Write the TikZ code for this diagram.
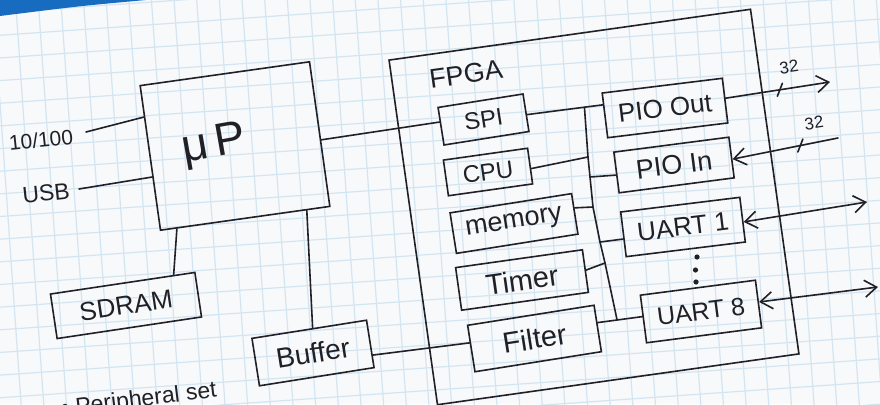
\documentclass[tikz,border=0pt]{standalone}
\usepackage{fontspec}
\setmainfont{Liberation Sans}
\usetikzlibrary{arrows.meta,calc}
\definecolor{ink}{RGB}{32,32,38}
\definecolor{gridc}{RGB}{212,229,242}
\definecolor{paper}{RGB}{247,249,251}
\definecolor{band}{RGB}{24,108,192}
\begin{document}
\begin{tikzpicture}[x=1pt,y=-1pt,
  blk/.style={draw=ink,line width=1.6pt,inner sep=0pt,text=ink,font=\fontsize{26}{28}\selectfont},
  wire/.style={draw=ink,line width=1.6pt,line cap=round},
  lbl/.style={text=ink,inner sep=0pt},
  gridline/.style={draw=gridc,line width=1.2pt},
  tipend/.style={-{Straight Barb[length=12pt,width=17pt]}},
  tipboth/.style={{Straight Barb[length=12pt,width=17pt]}-{Straight Barb[length=12pt,width=17pt]}}
]
\useasboundingbox (0,0) rectangle (880,404);
\fill[paper] (0,0) rectangle (880,404);
\begin{scope}
  \clip (0,0) rectangle (880,404);
  \begin{scope}[rotate around={4:(440,202)}]
    \foreach \i in {-12,...,52} \draw[gridline] (\i*22.6+8,-150) -- (\i*22.6+8,560);
    \foreach \j in {-12,...,30} \draw[gridline] (-150,\j*22.6+5) -- (1030,\j*22.6+5);
  \end{scope}
  \fill[band] (0,0) -- (146,0) .. controls (80,6) .. (0,16) -- cycle;
\end{scope}

% microprocessor and its neighbours
\node[blk,rotate=8,minimum width=171pt,minimum height=146pt] (mp) at (235,146) {};
\node[lbl,rotate=10,font=\fontsize{46}{48}\selectfont] (mplbl) at (214,146) {μ\,P};
\node[lbl,rotate=6,font=\fontsize{21}{23}\selectfont] (t100) at (41,140) {10/100};
\node[lbl,rotate=6,font=\fontsize{23}{25}\selectfont] (tusb) at (46,193) {USB};
\coordinate (c100) at (86,132);
\coordinate (cusb) at (79,189);
\node[blk,rotate=8.5,minimum width=146pt,minimum height=45pt] (sdram) at (126,305.5) {SDRAM};
\node[blk,rotate=9,minimum width=116pt,minimum height=48pt,font=\fontsize{28}{30}\selectfont] (buffer) at (313,353) {Buffer};
\node[lbl,rotate=7,anchor=base west,font=\fontsize{23}{25}\selectfont] (periph) at (62,416) {• Peripheral set};

% FPGA
\node[blk,rotate=8,minimum width=365pt,minimum height=348pt] (fpga) at (594,207) {};
\node[lbl,rotate=8,font=\fontsize{27}{29}\selectfont] (fpgalbl) at (466,74) {FPGA};
\node[blk,rotate=9,minimum width=86pt,minimum height=38pt,font=\fontsize{24}{26}\selectfont] (spi) at (483.5,119.5) {SPI};
\node[blk,rotate=8,minimum width=85pt,minimum height=36pt,font=\fontsize{24}{26}\selectfont] (cpu) at (488,172) {CPU};
\node[blk,rotate=9,minimum width=123pt,minimum height=41pt,font=\fontsize{27}{29}\selectfont] (memory) at (514,223.5) {memory};
\node[blk,rotate=8,minimum width=128pt,minimum height=43pt,font=\fontsize{29}{31}\selectfont] (timer) at (522,280) {Timer};
\node[blk,rotate=9,minimum width=128pt,minimum height=47pt,font=\fontsize{29}{31}\selectfont] (filter) at (534.5,338.5) {Filter};
\node[blk,rotate=7,minimum width=121pt,minimum height=45pt] (pioout) at (665,108) {PIO Out};
\node[blk,rotate=7.4,minimum width=116pt,minimum height=41pt,font=\fontsize{27}{29}\selectfont] (pioin) at (674,165) {PIO In};
\node[blk,rotate=7,minimum width=120pt,minimum height=45pt] (uart1) at (683,227) {UART 1};
\node[blk,rotate=7.4,minimum width=116pt,minimum height=48pt,font=\fontsize{25}{27}\selectfont] (uart8) at (701,311.5) {UART 8};
\fill[ink] (697,257) circle[radius=2.6] (695.5,270) circle[radius=2.6] (696,282) circle[radius=2.6];

% points on box edges
\coordinate (mpW1) at ($(mp.north west)!0.22!(mp.south west)$);
\coordinate (mpW2) at ($(mp.north west)!0.63!(mp.south west)$);
\coordinate (mpE) at ($(mp.north east)!0.54!(mp.south east)$);
\coordinate (mpS1) at ($(mp.south west)!0.10!(mp.south east)$);
\coordinate (mpS2) at ($(mp.south west)!0.86!(mp.south east)$);
\coordinate (sdramN) at ($(sdram.north west)!0.85!(sdram.north east)$);
\coordinate (bufN) at ($(buffer.north west)!0.53!(buffer.north east)$);
\coordinate (bufE) at ($(buffer.north east)!0.73!(buffer.south east)$);
\coordinate (filW) at ($(filter.north west)!0.38!(filter.south west)$);
\coordinate (spiW) at ($(spi.north west)!0.39!(spi.south west)$);
\coordinate (spiE) at ($(spi.north east)!0.55!(spi.south east)$);
\coordinate (cpuE) at ($(cpu.north east)!0.57!(cpu.south east)$);
\coordinate (memE) at ($(memory.north east)!0.36!(memory.south east)$);
\coordinate (timE) at ($(timer.north east)!0.48!(timer.south east)$);
\coordinate (filE) at ($(filter.north east)!0.38!(filter.south east)$);
\coordinate (pooW) at ($(pioout.north west)!0.27!(pioout.south west)$);
\coordinate (pooE) at ($(pioout.north east)!0.45!(pioout.south east)$);
\coordinate (piiW) at ($(pioin.north west)!0.56!(pioin.south west)$);
\coordinate (piiE) at ($(pioin.north east)!0.54!(pioin.south east)$);
\coordinate (u1W) at ($(uart1.north west)!0.60!(uart1.south west)$);
\coordinate (u1E) at ($(uart1.north east)!0.55!(uart1.south east)$);
\coordinate (u8W) at ($(uart8.north west)!0.45!(uart8.south west)$);
\coordinate (u8E) at ($(uart8.north east)!0.46!(uart8.south east)$);

% internal bus
\coordinate (busTop) at ($(spiE)!0.757!(pooW)$);
\coordinate (busBot) at ($(filE)!0.435!(u8W)$);
\coordinate (j1) at (588,157);
\coordinate (j2) at (590,177);
\coordinate (j3) at (593,207);
\coordinate (j4) at (600,242);
\coordinate (j5) at (605,263);
\draw[wire] (busTop) -- (j1) -- (j2) -- (j3) -- (j4) -- (j5) -- (busBot);

% connectors
\draw[wire] (c100) -- (mpW1);
\draw[wire] (cusb) -- (mpW2);
\draw[wire] (mpE) -- (spiW);
\draw[wire] (mpS1) -- (sdramN);
\draw[wire] (mpS2) -- (bufN);
\draw[wire] (bufE) -- (filW);
\draw[wire] (spiE) -- (pooW);
\draw[wire] (cpuE) -- (j1);
\draw[wire] (j2) -- (piiW);
\draw[wire] (memE) -- (j3);
\draw[wire] (j4) -- (u1W);
\draw[wire] (timE) -- (j5);
\draw[wire] (filE) -- (u8W);

% external signals
\coordinate (out1) at (830,82);
\coordinate (in1) at (838,138);
\coordinate (ext1) at (867,202);
\coordinate (ext8) at (878,287);
\draw[wire,tipend] (pooE) -- (out1) coordinate[pos=0.52] (tk1);
\draw[wire,tipend] (in1) -- (piiE) coordinate[pos=0.357] (tk2);
\draw[wire,tipboth] (u1E) -- (ext1);
\draw[wire,tipboth] (u8E) -- (ext8);
\draw[wire] ($(tk1)+(-2.5,6.5)$) -- ($(tk1)+(2.5,-6.5)$);
\draw[wire] ($(tk2)+(-2.5,6.5)$) -- ($(tk2)+(2.5,-6.5)$);
\node[lbl,rotate=8,font=\fontsize{17}{19}\selectfont] (w1) at (789,67) {32};
\node[lbl,rotate=8,font=\fontsize{17}{19}\selectfont] (w2) at (814,123) {32};
\end{tikzpicture}
\end{document}
